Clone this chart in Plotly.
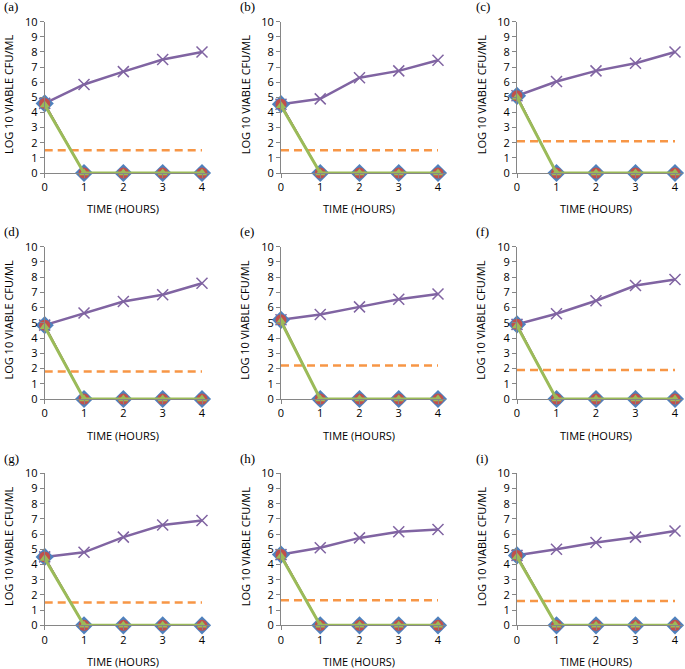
import plotly.graph_objects as go

# ---- data ----
hours = [0, 1, 2, 3, 4]
panel_labels = ["(a)", "(b)", "(c)", "(d)", "(e)", "(f)", "(g)", "(h)", "(i)"]

control = [
    [4.6, 5.85, 6.7, 7.5, 8.0],
    [4.55, 4.9, 6.3, 6.75, 7.45],
    [5.1, 6.05, 6.75, 7.25, 8.0],
    [4.85, 5.65, 6.4, 6.85, 7.6],
    [5.2, 5.55, 6.05, 6.55, 6.9],
    [4.9, 5.6, 6.45, 7.45, 7.85],
    [4.5, 4.8, 5.8, 6.6, 6.9],
    [4.65, 5.1, 5.75, 6.15, 6.3],
    [4.6, 5.0, 5.45, 5.8, 6.2],
]
start_vals = [4.6, 4.55, 5.1, 4.85, 5.2, 4.9, 4.5, 4.65, 4.6]
treat_a = [[s, 0, 0, 0, 0] for s in start_vals]
treat_b = [[s, 0, 0, 0, 0] for s in start_vals]
treat_c = [[s - 0.1, 0, 0, 0, 0] for s in start_vals]
detection_limit = [1.5, 1.5, 2.1, 1.8, 2.2, 1.9, 1.5, 1.65, 1.6]

# ---- styles ----
W, H = 685, 669
BLUE = "#4F81BD"
RED = "#C0504D"
GREEN = "#9BBB59"
PURPLE = "#8064A2"
ORANGE = "#F79646"
AXIS = "#868686"
TICKFONT = dict(family="Open Sans", size=11, color="#000000")

# pixel geometry of each panel: (x of y-axis, x of hour 4, y of 10, y of 0)
cols = [(44.7, 202.0), (281.0, 438.0), (517.0, 675.0)]
rows = [(21.7, 173.0), (246.7, 399.0), (473.3, 625.3)]
XMAX = 4.2

fig = go.Figure()
annotations = []
layout = {}

for i in range(9):
    r, c = divmod(i, 3)
    x0px, x4px = cols[c]
    y10px, y0px = rows[r]
    xendpx = min(x0px + (x4px - x0px) * XMAX / 4, W - 1)
    xmax = (xendpx - x0px) / (x4px - x0px) * 4
    n = "" if i == 0 else str(i + 1)
    xa, ya = "x" + n, "y" + n

    layout["xaxis" + n] = dict(
        domain=[x0px / W, xendpx / W], range=[0, xmax], anchor=ya,
        tickvals=hours, ticktext=[str(h) for h in hours],
        showline=True, linecolor=AXIS, linewidth=1,
        ticks="outside", ticklen=4, tickcolor=AXIS, automargin=False,
        showgrid=False, zeroline=False, tickfont=TICKFONT,
    )
    layout["yaxis" + n] = dict(
        domain=[1 - y0px / H, 1 - y10px / H], range=[0, 10], anchor=xa,
        tickvals=list(range(0, 11)),
        showline=True, linecolor=AXIS, linewidth=1,
        ticks="outside", ticklen=4, tickcolor=AXIS, automargin=False,
        showgrid=False, zeroline=False, tickfont=TICKFONT,
    )

    # detection limit
    fig.add_trace(go.Scatter(
        x=[0, 4], y=[detection_limit[i]] * 2, xaxis=xa, yaxis=ya,
        mode="lines", line=dict(color=ORANGE, width=2.5, dash="8px,5px"),
        showlegend=False, hoverinfo="skip"))
    # control
    fig.add_trace(go.Scatter(
        x=hours, y=control[i], xaxis=xa, yaxis=ya, mode="lines+markers",
        line=dict(color=PURPLE, width=2.5),
        marker=dict(symbol="x-thin", size=11, line=dict(color=PURPLE, width=1.5)),
        showlegend=False, cliponaxis=False))
    # treatments
    fig.add_trace(go.Scatter(
        x=hours, y=treat_a[i], xaxis=xa, yaxis=ya, mode="lines+markers",
        line=dict(color=BLUE, width=1.5),
        marker=dict(symbol="diamond", size=14, color=BLUE),
        showlegend=False, cliponaxis=False))
    fig.add_trace(go.Scatter(
        x=hours, y=treat_b[i], xaxis=xa, yaxis=ya, mode="lines+markers",
        line=dict(color=RED, width=1.5),
        marker=dict(symbol="circle", size=11, color=RED),
        showlegend=False, cliponaxis=False))
    fig.add_trace(go.Scatter(
        x=hours, y=treat_c[i], xaxis=xa, yaxis=ya, mode="lines+markers",
        line=dict(color=GREEN, width=3),
        marker=dict(symbol="triangle-up", size=9, color=GREEN),
        showlegend=False, cliponaxis=False))

    # panel label
    annotations.append(dict(
        text=panel_labels[i], x=(x0px - 43) / W, y=1 - (y10px - 15) / H,
        xref="paper", yref="paper", xanchor="left", yanchor="middle",
        showarrow=False, font=dict(family="Liberation Serif", size=13, color="#000")))
    # y title
    annotations.append(dict(
        text="LOG 10 VIABLE CFU/ML", x=(x0px - 36) / W, y=1 - ((y10px + y0px) / 2 - 3) / H,
        xref="paper", yref="paper", xanchor="center", yanchor="middle",
        textangle=-90, showarrow=False, font=dict(family="Open Sans", size=11, color="#000")))
    # x title
    annotations.append(dict(
        text="TIME (HOURS)", x=((x0px + x4px) / 2) / W, y=1 - (y0px + 36) / H,
        xref="paper", yref="paper", xanchor="center", yanchor="middle",
        showarrow=False, font=dict(family="Open Sans", size=11, color="#000")))

fig.update_layout(
    width=W, height=H, margin=dict(l=0, r=0, t=0, b=0, pad=0, autoexpand=False),
    paper_bgcolor="white", plot_bgcolor="white",
    annotations=annotations, **layout)

fig.write_html(
    "out.html",
    config={"displayModeBar": False},
    post_script="document.body.style.margin='0';document.documentElement.style.overflow='hidden';",
)
